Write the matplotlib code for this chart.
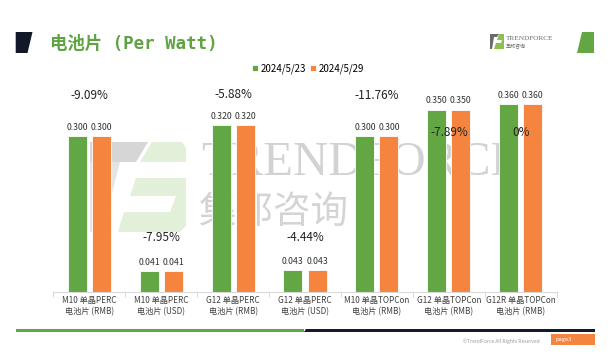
import matplotlib
matplotlib.use("Agg")
import matplotlib.pyplot as plt
from matplotlib.patches import Polygon, Rectangle
import numpy as np

plt.rcParams["font.family"] = ["Noto Sans CJK SC", "DejaVu Sans"]

categories = [
    "M10 单晶PERC\n电池片 (RMB)",
    "M10 单晶PERC\n电池片 (USD)",
    "G12 单晶PERC\n电池片 (RMB)",
    "G12 单晶PERC\n电池片 (USD)",
    "M10 单晶TOPCon\n电池片 (RMB)",
    "G12 单晶TOPCon\n电池片 (RMB)",
    "G12R 单晶TOPCon\n电池片 (RMB)",
]
dates = ["2024/5/23", "2024/5/29"]
price_0523 = [0.300, 0.041, 0.320, 0.043, 0.300, 0.350, 0.360]
price_0529 = [0.300, 0.041, 0.320, 0.043, 0.300, 0.350, 0.360]
pct_change = [-9.09, -7.95, -5.88, -4.44, -11.76, -7.89, 0]

GREEN = "#62a744"
ORANGE = "#f5843f"
W, H = 614, 354


def fp(x, y):
    # pixel position (top-left origin) -> figure fraction
    return (x / W, 1 - y / H)


def fig_poly(fig, pts, color, z=-2, alpha=1.0):
    fig.patches.append(Polygon([fp(*p) for p in pts], closed=True,
                               transform=fig.transFigure, facecolor=color,
                               edgecolor="none", zorder=z, alpha=alpha))


fig = plt.figure(figsize=(W / 100, H / 100), dpi=100)

# ---- watermark (behind the bars) ----
fig_poly(fig, [(90, 142), (148, 142), (136, 162), (90, 162)], "#d6d6d6", z=-3)
fig_poly(fig, [(90, 162), (120, 162), (102, 232), (90, 232)], "#e4e4e4", z=-3)
fig_poly(fig, [(152, 142), (182, 142), (186, 148), (186, 162), (140, 162)], "#e2f0d9", z=-3)
fig_poly(fig, [(136, 178), (186, 178), (186, 226), (180, 232), (118, 232), (124, 212), (170, 212), (176, 196), (130, 196)], "#e2f0d9", z=-3)
fig.text(*fp(201, 163), "TRENDFORCE", fontsize=35, family="Liberation Serif",
         color="#d2d2d2", va="center", ha="left", zorder=-3)
fig.text(*fp(199, 212), "集邦咨询", fontsize=27, color="#d4d4d4",
         va="center", ha="left", zorder=-3)

# ---- chart ----
ax = fig.add_axes([53.3 / W, (H - 292.3) / H, 503.4 / W, 208.8 / H])
ax.set_facecolor("none")
x = np.arange(len(categories))
bw = 0.264
off = 0.167
b1 = ax.bar(x - off, price_0523, bw, color=GREEN, edgecolor="#ffffff",
            linewidth=0.6, label=dates[0])
b2 = ax.bar(x + off, price_0529, bw, color=ORANGE, edgecolor="#ffffff",
            linewidth=0.6, label=dates[1])
ax.bar_label(b1, fmt="%.3f", padding=3, fontsize=6.3, color="#333333")
ax.bar_label(b2, fmt="%.3f", padding=3, fontsize=6.3, color="#333333")

# week-on-week change labels
pct_offsets = [29.3, 23.7, 21.8, 23.0, 29.3, -16.6, -20.4]
for i, v in enumerate(pct_change):
    top = max(price_0523[i], price_0529[i])
    ax.annotate(f"{v:g}%", (x[i], top), xytext=(0, pct_offsets[i]),
                textcoords="offset points", ha="center", va="center",
                fontsize=8.5, color="#222222")

ax.set_xlim(-0.5, len(categories) - 0.5)
ax.set_ylim(0, 0.4)
ax.set_yticks([])
for s in ["top", "left", "right"]:
    ax.spines[s].set_visible(False)
ax.spines["bottom"].set_color("#d9d9d9")
ax.spines["bottom"].set_linewidth(0.8)
ax.set_xticks(x)
ax.set_xticklabels(categories, fontsize=5.9, color="#404040", linespacing=1.2)
ax.set_xticks(np.arange(-0.5, len(categories)), minor=True)
ax.tick_params(axis="x", which="major", length=0, pad=3)
ax.tick_params(axis="x", which="minor", length=3.5, color="#d9d9d9", width=0.8)

fig.legend(handles=[b1, b2], labels=dates, loc="center",
           bbox_to_anchor=fp(308, 69), ncol=2, frameon=False, fontsize=7,
           handlelength=0.6, handleheight=0.6, handletextpad=0.3,
           columnspacing=0.4, borderpad=0)

# ---- header ----
fig_poly(fig, [(15.7, 32), (32.5, 32), (27.5, 53), (15.7, 53)], "#111827", z=2)
fig_poly(fig, [(582, 32), (594, 32), (594, 53), (577, 53)], GREEN, z=2)
fig.text(*fp(50, 44), "电池片 (Per Watt)", fontsize=12.5, weight="bold",
         family=["DejaVu Sans Mono", "Noto Sans CJK SC"], color="#5fa342",
         va="center", ha="left")
# small logo
fig_poly(fig, [(490, 34), (499, 34), (497, 37), (490, 37)], "#6b6b6b", z=2)
fig_poly(fig, [(490, 37), (494, 37), (492, 49), (490, 49)], "#6b6b6b", z=2)
fig_poly(fig, [(499, 34), (504, 34), (504, 49), (494, 49), (496, 43), (501, 43), (502, 40), (497, 40)], "#8cc152", z=2)
fig.text(*fp(506, 39), "TRENDFORCE", fontsize=5.2, family="Liberation Serif",
         color="#6b6b6b", va="center", ha="left")
fig.text(*fp(506, 46.5), "集邦咨询", fontsize=3.6, color="#6b6b6b",
         va="center", ha="left")

# ---- footer ----
fig.patches.append(Rectangle(fp(15.7, 332), 288 / W, 3.5 / H,
                             transform=fig.transFigure, facecolor=GREEN,
                             edgecolor="none"))
fig_poly(fig, [(306, 328.5), (595, 328.5), (595, 332), (304, 332)], "#141a2b", z=2)
fig.text(*fp(540, 341.5), "©TrendForce All Rights Reserved", fontsize=3.6,
         color="#9a9a9a", ha="right", va="center")
fig.patches.append(Rectangle(fp(551, 345), 44 / W, 11 / H,
                             transform=fig.transFigure, facecolor=ORANGE,
                             edgecolor="none"))
fig.text(*fp(555, 339.5), "page3", fontsize=4.2, color="white",
         ha="left", va="center")

fig.savefig("out.png", dpi=100)
